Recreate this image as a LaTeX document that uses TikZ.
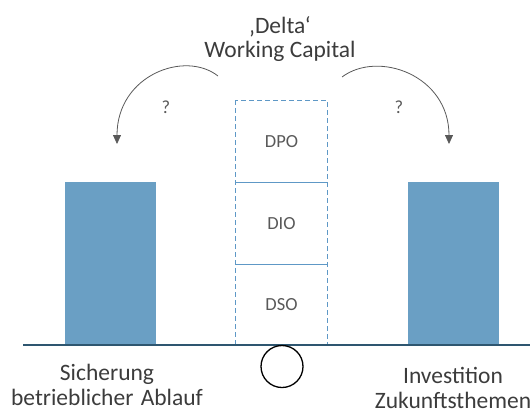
\documentclass[tikz,border=0pt]{standalone}
\usepackage{fontspec}
\setmainfont{Carlito}
\usepackage{xcolor}
\usetikzlibrary{shapes, arrows.meta}
\definecolor{barblue}{HTML}{6A9FC4}
\definecolor{stackblue}{HTML}{5E98C6}
\definecolor{groundline}{HTML}{2E5670}
\definecolor{textgray}{HTML}{3C3C3C}
\definecolor{labelgray}{HTML}{595959}

\begin{document}
\begin{tikzpicture}[x=1pt,y=-1pt,>={Triangle[width=8pt,length=9pt]},
            bar/.style={fill=barblue,minimum width=91pt,minimum height=163pt,inner sep=0pt},
            day box/.style={minimum width=92pt,minimum height=82pt,inner sep=0pt,
                font=\fontsize{18.5}{20}\selectfont,text=labelgray},
            label text/.style={align=center,font=\fontsize{23.5}{25}\selectfont,text=textgray},
            swing/.style={->,line width=0.8pt,draw=labelgray}]

        \useasboundingbox (0,0) rectangle (530,410);

        % bars left and right
        \node[bar] (left bar) at (110.5,263.5) {};
        \node[bar] (right bar) at (453.3,263.5) {};

        % working capital stack
        \node[day box] (dpo) at (281.5,141.5) {DPO};
        \node[day box] (dio) at (281.5,223.5) {DIO};
        \node[day box,minimum height=80.5pt] (dso) at (281.5,304.75) {DSO};
        \draw[stackblue,line width=1.2pt,dash pattern=on 5pt off 3pt]
            (dpo.north west) rectangle (dso.south east);
        \draw[stackblue,line width=1.2pt] (dio.north west) -- (dio.north east)
            (dso.north west) -- (dso.north east);

        % ground and pivot
        \coordinate (ground west) at (23,345);
        \coordinate (ground east) at (530,345);
        \draw[groundline,line width=1.5pt] (ground west) -- (ground east);
        \node[circle,draw,line width=1.3pt,minimum size=42pt,inner sep=0pt] (pivot) at (282,366.5) {};

        \node[label text,font=\fontsize{23.5}{23.5}\selectfont] (title) at (280,39) {‚Delta‘\\Working Capital};
        \node[label text] (left label) at (107,385) {Sicherung\\betrieblicher\hspace{2pt} Ablauf};
        \node[label text] (right label) at (453,388) {Investition\\Zukunftsthemen};

        \node[day box,minimum size=0pt] (q left) at (166,107) {?};
        \node[day box,minimum size=0pt] (q right) at (399,107) {?};

        \coordinate (left start) at (218,76);
        \coordinate (left end) at (117,144);
        \coordinate (right start) at (342,77);
        \coordinate (right end) at (449,144);
        \draw[swing] (left start) .. controls (185,50) and (117,75) .. (left end);
        \draw[swing] (right start) .. controls (378,50) and (449,75) .. (right end);
    \end{tikzpicture}
\end{document}
